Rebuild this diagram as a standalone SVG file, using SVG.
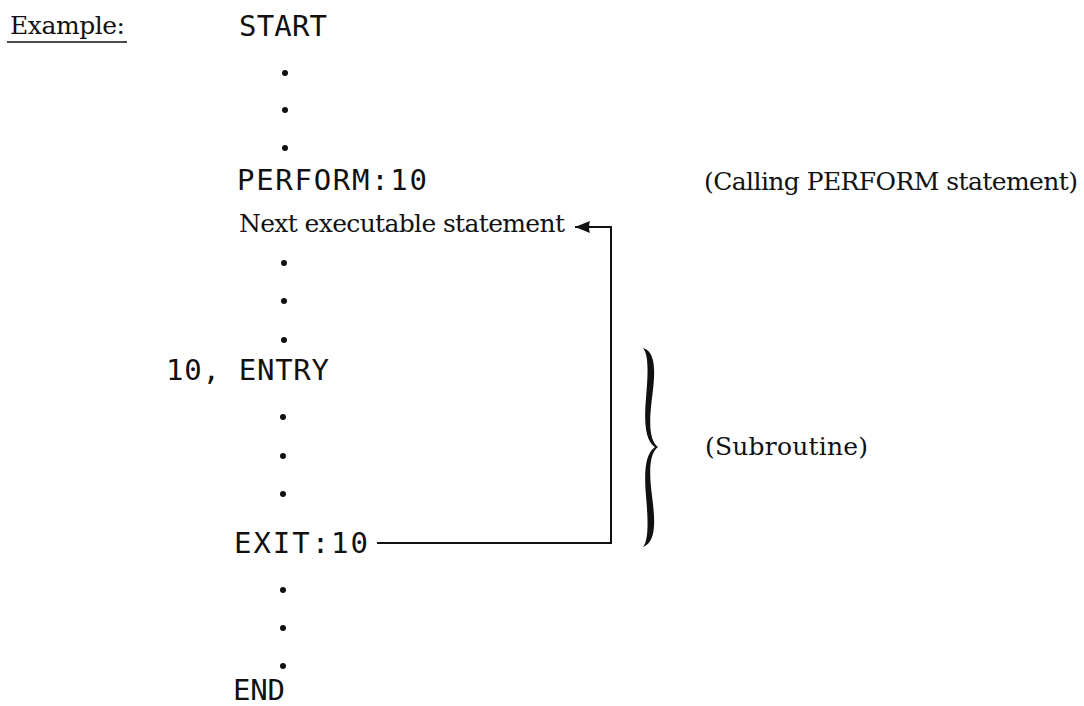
<svg xmlns="http://www.w3.org/2000/svg" width="1084" height="706" viewBox="0 0 1084 706">
<style>
.mono{font-family:"DejaVu Sans Mono","Liberation Mono",monospace;font-size:29px;fill:#111}
.ser{font-family:"DejaVu Serif","Liberation Serif",serif;font-size:25px;fill:#111}
.dot{fill:#111}
.ln{fill:none;stroke:#111;stroke-width:2}
</style>
<defs>
<marker id="ah" markerWidth="18" markerHeight="14" refX="15" refY="7" orient="auto" markerUnits="userSpaceOnUse">
<path d="M0,1 Q2,7 0,13 L15,7 Z" fill="#111"/>
</marker>
</defs>
<rect width="1084" height="706" fill="#fff"/>
<g id="example">
<text class="ser" x="10" y="34" textLength="115">Example:</text>
<line x1="7" y1="42" x2="127" y2="42" stroke="#111" stroke-width="1.6"/>
</g>
<g id="start"><text class="mono" x="239" y="36" textLength="88">START</text></g>
<g id="dots1"><circle class="dot" cx="285" cy="73" r="3"/><circle class="dot" cx="285" cy="110" r="3"/><circle class="dot" cx="285" cy="148" r="3"/></g>
<g id="perform"><text class="mono" x="237" y="190" textLength="190">PERFORM:10</text></g>
<g id="calling"><text class="ser" x="704" y="190" textLength="374">(Calling PERFORM statement)</text></g>
<g id="next"><text class="ser" x="239" y="232" textLength="326">Next executable statement</text></g>
<g id="dots2"><circle class="dot" cx="284" cy="263" r="3"/><circle class="dot" cx="284" cy="301" r="3"/><circle class="dot" cx="284" cy="340" r="3"/></g>
<g id="entry"><text class="mono" x="166" y="380" textLength="163">10, ENTRY</text></g>
<g id="dots3"><circle class="dot" cx="283" cy="417" r="3"/><circle class="dot" cx="283" cy="456" r="3"/><circle class="dot" cx="283" cy="494" r="3"/></g>
<g id="exit"><text class="mono" x="234" y="553" textLength="134">EXIT:10</text></g>
<g id="dots4"><circle class="dot" cx="283" cy="590" r="3"/><circle class="dot" cx="283" cy="628" r="3"/><circle class="dot" cx="283" cy="666" r="3"/></g>
<g id="end"><text class="mono" x="233" y="700" textLength="52">END</text></g>
<g id="brace">
<path d="M643,348 C657,352 655,375 652,398 C649,422 649,440 658,447 C649,454 649,472 652,496 C655,519 657,542 643,547 C649,540 648,519 646,496 C644,472 645,454 655,447 C645,440 644,422 646,398 C648,375 649,355 643,348 Z" fill="#111"/>
</g>
<g id="subroutine"><text class="ser" x="705" y="455" textLength="163">(Subroutine)</text></g>
<g id="connectors">
<path class="ln" d="M377,543 H611 V227 H575" marker-end="url(#ah)"/>
</g>
</svg>
